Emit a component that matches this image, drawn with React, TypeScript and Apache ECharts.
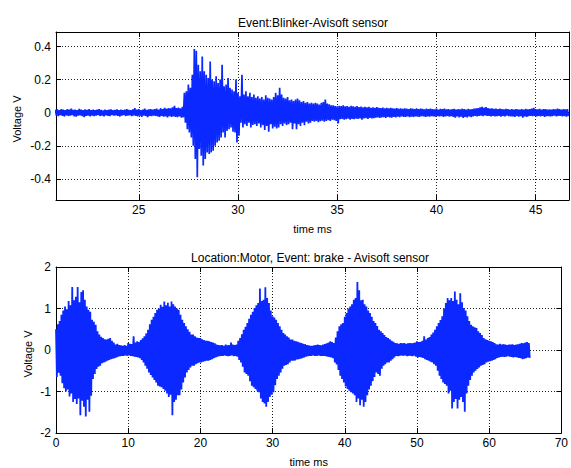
import React, { useEffect, useRef } from 'react';
import * as echarts from 'echarts';

const FONT = '"Liberation Sans", Arial, Helvetica, sans-serif';
const BLUE = '#0a28ff';

// ---- Top plot: Blinker event (envelope per 0.1 ms sample, in mV) ----
const TOP_T0 = 20.8;
const TOP_DT = 0.1;
const topXTicks = [25, 30, 35, 40, 45];
const topYTicks = [-0.4, -0.2, 0, 0.2, 0.4];
const topHi = [
  18, 20, 16, 22, 19, 15, 21, 18, 24, 17,
  19, 16, 23, 18, 15, 20, 17, 22, 16, 19,
  15, 18, 21, 17, 14, 19, 16, 18, 20, 15,
  17, 20, 16, 18, 15, 19, 22, 17, 16, 20,
  28, 18, 21, 16, 19, 24, 17, 20, 22, 18,
  21, 25, 19, 27, 22, 30, 24, 28, 26, 33,
  42, 28, 31, 26, 35, 120, 130, 170, 150, 230,
  385, 375, 290, 250, 340, 250, 230, 210, 310, 200,
  190, 220, 180, 200, 290, 160, 170, 210, 150, 140,
  130, 200, 120, 100, 230, 110, 130, 100, 120, 95,
  110, 90, 100, 85, 95, 80, 105, 90, 85, 80,
  95, 120, 105, 150, 110, 90, 85, 95, 75, 80,
  70, 80, 85, 75, 65, 70, 60, 65, 55, 60,
  55, 60, 55, 50, 60, 65, 80, 55, 50, 45,
  45, 40, 38, 42, 40, 45, 38, 40, 36, 42,
  38, 35, 40, 34, 37, 33, 36, 32, 35, 30,
  32, 29, 34, 30, 28, 31, 27, 30, 26, 29,
  27, 25, 28, 24, 26, 23, 27, 25, 22, 26,
  24, 22, 26, 21, 25, 23, 20, 24, 22, 25,
  22, 20, 24, 19, 23, 21, 25, 20, 22, 19,
  21, 23, 19, 22, 20, 24, 21, 19, 23, 20,
  22, 24, 26, 28, 33, 35, 30, 34, 28, 25,
  26, 23, 25, 21, 24, 22, 20, 23, 21, 19,
  21, 19, 22, 20, 18, 21, 19, 23, 20, 22,
  24, 30, 22, 20, 23, 19, 21, 22, 18, 20,
  19, 22, 20, 24, 21, 18, 22, 20, 21,
];
const topLo = [
  -17, -21, -15, -19, -23, -16, -20, -18, -15, -22,
  -24, -18, -16, -21, -27, -19, -17, -22, -18, -20,
  -18, -15, -20, -17, -22, -16, -19, -21, -15, -18,
  -16, -19, -23, -17, -15, -20, -18, -16, -21, -17,
  -19, -22, -17, -25, -18, -20, -27, -19, -21, -18,
  -20, -23, -26, -19, -24, -22, -28, -21, -25, -23,
  -25, -27, -22, -30, -28, -60, -100, -120, -150, -200,
  -280, -390, -220, -260, -320, -280, -240, -250, -240, -230,
  -200, -180, -170, -150, -120, -150, -110, -100, -90, -115,
  -120, -180, -140, -60, -90, -70, -80, -60, -90, -75,
  -70, -80, -65, -90, -75, -105, -80, -115, -70, -95,
  -85, -95, -90, -70, -80, -65, -75, -70, -60, -100,
  -65, -100, -70, -80, -60, -75, -55, -65, -60, -50,
  -55, -50, -58, -52, -48, -55, -50, -45, -50, -42,
  -45, -50, -65, -40, -38, -42, -40, -36, -42, -38,
  -40, -36, -38, -35, -42, -34, -33, -37, -32, -35,
  -33, -30, -28, -32, -29, -27, -31, -26, -28, -30,
  -26, -28, -24, -27, -23, -25, -26, -22, -27, -24,
  -25, -22, -24, -26, -21, -23, -25, -22, -24, -21,
  -22, -24, -20, -23, -21, -25, -22, -20, -24, -21,
  -25, -30, -22, -28, -24, -32, -26, -29, -23, -27,
  -22, -20, -23, -19, -18, -21, -17, -20, -19, -22,
  -20, -23, -21, -19, -24, -20, -22, -18, -21, -23,
  -22, -25, -20, -24, -21, -30, -23, -26, -21, -20,
  -21, -19, -22, -20, -23, -19, -25, -21, -20, -22,
  -21, -18, -23, -20, -19, -22, -20, -24, -21,
];

// ---- Bottom plot: Motor brake event (envelope per 0.25 ms sample, in 0.01 V) ----
const BOT_T0 = 0;
const BOT_DT = 0.25;
const botXTicks = [0, 10, 20, 30, 40, 50, 60, 70];
const botYTicks = [-2, -1, 0, 1, 2];
const botHi = [
  50, 62, 70, 85, 95, 105, 98, 118, 108, 152, 120, 128, 152, 115, 140, 144,
  121, 105, 97, 92, 73, 68, 61, 45, 37, 32, 29, 26, 25, 27, 29, 22,
  18, 13, 15, 12, 11, 10, 12, 10, 17, 15, 14, 33, 18, 21, 19, 24,
  28, 33, 40, 49, 62, 73, 80, 89, 97, 100, 109, 104, 117, 108, 114, 105,
  117, 110, 105, 100, 97, 85, 73, 65, 57, 50, 44, 37, 37, 33, 30, 29,
  29, 26, 24, 22, 22, 21, 19, 18, 16, 13, 12, 11, 12, 10, 13, 11,
  12, 18, 13, 12, 13, 22, 29, 38, 49, 56, 65, 75, 85, 92, 101, 108,
  113, 148, 118, 121, 151, 125, 113, 95, 81, 78, 73, 65, 57, 49, 41, 37,
  33, 30, 25, 25, 22, 21, 20, 18, 17, 15, 14, 12, 11, 10, 10, 11,
  12, 13, 12, 11, 13, 14, 16, 18, 21, 19, 17, 30, 45, 57, 62, 65,
  80, 89, 100, 105, 110, 121, 125, 164, 144, 120, 121, 110, 105, 95, 89, 80,
  70, 65, 58, 49, 45, 41, 36, 31, 29, 26, 22, 20, 17, 16, 15, 17,
  16, 17, 15, 16, 17, 16, 17, 18, 21, 19, 20, 22, 33, 25, 29, 31,
  37, 42, 49, 57, 65, 72, 81, 100, 113, 125, 120, 125, 118, 141, 121, 110,
  137, 115, 101, 95, 81, 70, 61, 57, 55, 53, 45, 41, 36, 29, 26, 24,
  22, 21, 19, 17, 14, 13, 15, 13, 14, 13, 12, 13, 13, 14, 12, 13,
  14, 15, 17, 16, 18, 19, 17,
];
const botLo = [
  -65, -55, -62, -80, -92, -100, -95, -112, -105, -125, -118, -130, -117, -157, -122, -137,
  -160, -120, -149, -110, -70, -58, -46, -40, -38, -32, -30, -28, -26, -24, -22, -21,
  -20, -18, -16, -15, -14, -14, -13, -14, -13, -14, -15, -16, -17, -18, -20, -24,
  -30, -38, -45, -54, -60, -66, -72, -78, -86, -88, -90, -94, -98, -105, -113, -108,
  -157, -125, -120, -109, -109, -95, -78, -66, -54, -48, -42, -38, -38, -34, -32, -30,
  -30, -28, -27, -26, -26, -24, -22, -20, -18, -16, -15, -14, -14, -13, -14, -15,
  -14, -13, -15, -14, -16, -24, -30, -40, -54, -58, -62, -75, -86, -90, -94, -98,
  -102, -117, -125, -129, -137, -125, -113, -108, -102, -85, -70, -62, -54, -45, -38, -36,
  -34, -30, -26, -26, -25, -23, -22, -21, -20, -18, -16, -15, -14, -14, -13, -14,
  -14, -13, -14, -14, -14, -15, -16, -17, -18, -20, -30, -35, -48, -62, -70, -78,
  -88, -94, -98, -102, -105, -109, -125, -117, -133, -120, -137, -125, -109, -95, -86, -75,
  -65, -54, -58, -62, -45, -38, -34, -30, -30, -26, -22, -18, -14, -15, -14, -13,
  -14, -13, -15, -14, -14, -15, -14, -16, -18, -17, -18, -19, -22, -24, -26, -28,
  -30, -34, -38, -50, -62, -70, -78, -82, -86, -105, -98, -141, -125, -118, -141, -120,
  -113, -125, -149, -105, -86, -72, -62, -54, -50, -46, -42, -38, -36, -34, -30, -28,
  -27, -26, -24, -22, -19, -18, -17, -16, -17, -16, -15, -16, -17, -18, -17, -18,
  -19, -20, -22, -21, -20, -18, -19,
];

function buildTrace(t0: number, dt: number, hi: number[], lo: number[], unit: number) {
  const out: number[][] = [];
  for (let i = 0; i < hi.length; i++) {
    const t = t0 + i * dt;
    out.push([t, hi[i] * unit]);
    out.push([t + dt / 2, lo[i] * unit]);
  }
  return out;
}

const labelStyle = { fontSize: 12, color: '#000', fontFamily: FONT };
const nameStyle = { fontSize: 11, color: '#000', fontFamily: FONT };
const gridLine = { show: true, lineStyle: { type: [1, 2] as any, color: '#222', width: 1 } };
const axLine = { show: true, onZero: false, lineStyle: { color: '#000', width: 1 } };

function xMain(gridIndex: number, min: number, max: number, ticks: number[]) {
  return {
    type: 'value', gridIndex, position: 'bottom', min, max,
    axisLine: axLine,
    axisTick: { show: true, inside: true, length: 5, customValues: ticks, lineStyle: { color: '#000' } },
    axisLabel: { show: true, customValues: ticks, margin: 4, ...labelStyle },
    splitLine: gridLine,
    name: 'time ms', nameLocation: 'middle', nameGap: 23, nameTextStyle: nameStyle,
  };
}
function xTop(gridIndex: number, min: number, max: number, ticks: number[]) {
  return {
    type: 'value', gridIndex, position: 'top', min, max,
    axisLine: axLine,
    axisTick: { show: true, inside: true, length: 5, customValues: ticks, lineStyle: { color: '#000' } },
    axisLabel: { show: false },
    splitLine: { show: false },
  };
}
function yMain(gridIndex: number, min: number, max: number, ticks: number[]) {
  return {
    type: 'value', gridIndex, position: 'left', min, max,
    axisLine: axLine,
    axisTick: { show: true, inside: true, length: 5, customValues: ticks, lineStyle: { color: '#000' } },
    axisLabel: { show: true, customValues: ticks, margin: 5, ...labelStyle },
    splitLine: gridLine,
  };
}
function yRight(gridIndex: number, min: number, max: number, ticks: number[]) {
  return {
    type: 'value', gridIndex, position: 'right', min, max,
    axisLine: axLine,
    axisTick: { show: true, inside: true, length: 5, customValues: ticks, lineStyle: { color: '#000' } },
    axisLabel: { show: false },
    splitLine: { show: false },
  };
}

function yName(x: number, y: number) {
  return {
    type: 'text', x, y, rotation: Math.PI / 2, silent: true,
    style: {
      text: 'Voltage V', align: 'center', verticalAlign: 'middle',
      fill: '#000', font: `11px ${FONT}`,
    },
  };
}

export default function App() {
  const ref = useRef<HTMLDivElement>(null);
  useEffect(() => {
    document.body.style.margin = '0';
    const chart = echarts.init(ref.current!, null, { renderer: 'svg' });
    const topData = buildTrace(TOP_T0, TOP_DT, topHi, topLo, 0.001);
    const botData = buildTrace(BOT_T0, BOT_DT, botHi, botLo, 0.01);
    chart.setOption({
      animation: false,
      backgroundColor: '#fff',
      title: [
        {
          text: 'Event:Blinker-Avisoft sensor', left: 308, top: 12, textAlign: 'center',
          textStyle: { fontSize: 12, fontWeight: 'normal', color: '#000', fontFamily: FONT },
        },
        {
          text: 'Location:Motor, Event: brake - Avisoft sensor', left: 305, top: 247, textAlign: 'center',
          textStyle: { fontSize: 12, fontWeight: 'normal', color: '#000', fontFamily: FONT },
        },
      ],
      graphic: [yName(17, 119), yName(28, 354)],
      grid: [
        { left: 56, top: 32, width: 513, height: 168, containLabel: false },
        { left: 56, top: 267, width: 513, height: 168, containLabel: false },
      ],
      xAxis: [
        xMain(0, 20.83, 46.68, topXTicks),
        xTop(0, 20.83, 46.68, topXTicks),
        xMain(1, 0, 70, botXTicks),
        xTop(1, 0, 70, botXTicks),
      ],
      yAxis: [
        yMain(0, -0.528, 0.488, topYTicks),
        yRight(0, -0.528, 0.488, topYTicks),
        yMain(1, -2, 2, botYTicks),
        yRight(1, -2, 2, botYTicks),
      ],
      series: [
        {
          type: 'line', xAxisIndex: 0, yAxisIndex: 0, data: topData,
          showSymbol: false, symbol: 'none', silent: true,
          lineStyle: { color: BLUE, width: 1.7 }, itemStyle: { color: BLUE },
        },
        {
          type: 'line', xAxisIndex: 2, yAxisIndex: 2, data: botData,
          showSymbol: false, symbol: 'none', silent: true,
          lineStyle: { color: BLUE, width: 1.8 }, itemStyle: { color: BLUE },
        },
      ],
    });
    return () => chart.dispose();
  }, []);
  return <div ref={ref} style={{ width: 571, height: 468 }} />;
}
